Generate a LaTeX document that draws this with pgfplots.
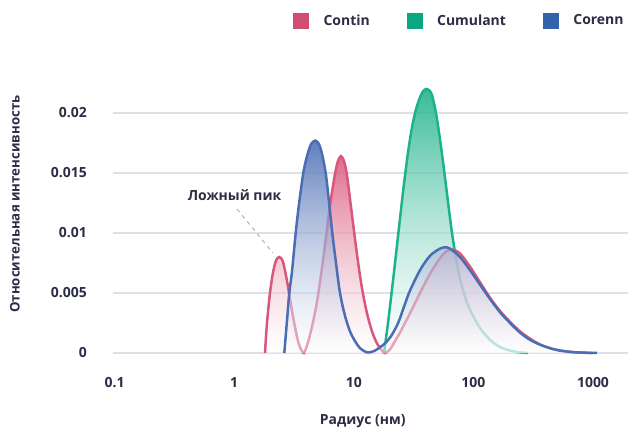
\documentclass[border=0pt]{standalone}
\usepackage{pgfplots}
\pgfplotsset{compat=1.18}
\usepackage{pgfplotstable}
\usetikzlibrary{fadings}
\usepackage{fontspec}
\setmainfont{Open Sans}
\definecolor{pinkL}{HTML}{D9577B}
\definecolor{greenL}{HTML}{1DB28A}
\definecolor{blueL}{HTML}{4A6DB3}
\definecolor{pinkS}{HTML}{D04F73}
\definecolor{greenS}{HTML}{0AA882}
\definecolor{blueS}{HTML}{3363AB}
\definecolor{textc}{HTML}{2B2C45}
\definecolor{gridc}{HTML}{DFDFE6}
\tikzfading[name=fillfade, top color=transparent!12, bottom color=transparent!55]

\pgfplotstableread{
x y
1.809 0
1.880 0.0025
1.992 0.0050
2.111 0.0067
2.236 0.0077
2.383 0.0080
2.559 0.0076
2.764 0.0060
2.928 0.0045
3.162 0.0026
3.416 0.0010
3.618 0.0003
3.834 0
4.141 0.0009
4.472 0.0022
4.830 0.0038
5.217 0.0059
5.743 0.0090
6.324 0.0123
6.963 0.0149
7.377 0.0160
7.815 0.0164
8.281 0.0160
8.773 0.0148
9.660 0.0115
10.64 0.0082
11.71 0.0054
12.90 0.0033
14.20 0.0018
15.63 0.0008
17.21 0.0002
18.23 0
20.08 0.0003
22.11 0.0010
24.34 0.0017
26.80 0.0025
29.51 0.0033
35.77 0.0050
43.37 0.0066
52.57 0.0079
60.15 0.0085
67.52 0.0086
77.26 0.0083
93.67 0.0072
113.5 0.0059
137.7 0.0046
166.9 0.0035
202.3 0.0026
245.3 0.0018
297.3 0.0012
360.5 0.0007
437.0 0.0004
529.8 0.0002
707.1 0.00006
981.0 0
}\contin

\pgfplotstableread{
x y
2.624 0
2.764 0.0027
2.889 0.0050
3.043 0.0068
3.268 0.0100
3.482 0.0124
3.782 0.0150
4.062 0.0164
4.387 0.0174
4.765 0.0177
5.117 0.0174
5.421 0.0166
5.822 0.0150
6.204 0.0126
6.611 0.0100
7.099 0.0075
7.667 0.0050
8.442 0.0031
9.295 0.0018
10.23 0.0010
11.27 0.0004
12.90 0.00005
14.20 0.0001
15.63 0.0003
18.23 0.0008
20.47 0.0014
22.97 0.0023
24.34 0.0029
26.80 0.0041
29.51 0.0052
35.77 0.0069
43.37 0.0081
52.57 0.0087
57.88 0.0088
63.73 0.0087
77.26 0.0080
93.67 0.0069
113.5 0.0057
137.7 0.0045
166.9 0.0034
202.3 0.0025
245.3 0.0017
297.3 0.0011
360.5 0.0007
437.0 0.0004
529.8 0.0002
707.1 0.00006
1080 0
}\corenn

\pgfplotstableread{
x y
17.89 0
19.32 0.0025
20.86 0.0053
22.53 0.0082
24.34 0.0112
26.29 0.0141
28.39 0.0167
30.66 0.0188
33.12 0.0203
35.77 0.0213
37.90 0.0218
40.15 0.0220
42.54 0.0219
45.07 0.0215
48.67 0.0200
52.57 0.0178
56.78 0.0153
61.32 0.0126
66.23 0.0100
71.54 0.0079
77.26 0.0062
85.07 0.0047
93.67 0.0036
113.5 0.0021
137.7 0.0011
166.9 0.0005
202.3 0.0002
245.3 0.00005
286.1 0
}\cumulant

\newcommand{\lblfont}{\bfseries\fontsize{14}{16}\selectfont}

\begin{document}
\begin{tikzpicture}
\begin{axis}[
  name=ax,
  scale only axis, width=515bp, height=284.4bp,
  xmode=log, xmin=0.09697, xmax=1962,
  ymin=-0.0002, ymax=0.0235,
  scaled y ticks=false,
  xtick={0.1,1,10,100,1000}, xticklabels={0.1,1,10,100,1000},
  ytick={0,0.005,0.01,0.015,0.02}, yticklabels={0,0.005,0.01,0.015,0.02},
  axis line style={draw=none},
  major tick length=0pt, minor tick length=0pt,
  ymajorgrids, major grid style={gridc, line width=1.3bp},
  ticklabel style={font=\lblfont, text=textc},
  xticklabel style={anchor=center, yshift=-27.6bp},
  yticklabel style={anchor=east, inner sep=0pt, xshift=-26bp},
  xlabel={Радиус (нм)}, ylabel={Относительная интенсивность},
  xlabel style={at={(axis description cs:0.485,-0.2307)}, anchor=center, font=\lblfont, text=textc},
  ylabel style={at={(axis description cs:-0.1903,0.532)}, anchor=center, font=\bfseries\fontsize{13.3}{15}\selectfont, text=textc},
  legend columns=3,
  legend style={draw=none, fill=none, at={(axis description cs:0.3495,1.1776)}, anchor=west,
    inner sep=0pt, font=\lblfont, text=textc, nodes={inner sep=0pt},
    /tikz/every odd column/.append style={column sep=15bp},
    /tikz/every even column/.append style={column sep=37bp}},
]
\addplot[forget plot, draw=none, top color=greenL, bottom color=white, path fading=fillfade, smooth] table {\cumulant} \closedcycle;
\addplot[forget plot, greenL, line width=2.5bp, smooth] table {\cumulant};
\addplot[forget plot, draw=none, top color=pinkL, bottom color=white, path fading=fillfade, smooth] table {\contin} \closedcycle;
\addplot[forget plot, pinkL, line width=2.5bp, smooth] table {\contin};
\addplot[forget plot, draw=none, top color=blueL, bottom color=white, path fading=fillfade, smooth] table {\corenn} \closedcycle;
\addplot[forget plot, blueL, line width=2.5bp, smooth] table {\corenn};

\addlegendimage{legend image code/.code={\fill[pinkS] (0bp,-7.5bp) rectangle (15bp,7.5bp);}}
\addlegendentry{Contin}
\addlegendimage{legend image code/.code={\fill[greenS] (0bp,-7.5bp) rectangle (15bp,7.5bp);}}
\addlegendentry{Cumulant}
\addlegendimage{legend image code/.code={\fill[blueS] (0bp,-7.5bp) rectangle (15bp,7.5bp);}}
\addlegendentry{Corenn}

\draw[gray!60, dash pattern=on 4bp off 4bp, line width=1bp] (axis cs:1.055,0.012) -- (axis cs:2.11,0.00833);
\node[font=\lblfont, text=textc] at (axis cs:1.006,0.01317) {Ложный пик};
\end{axis}
\pgfresetboundingbox
\path[use as bounding box] ([xshift=-113bp,yshift=-74.6bp]ax.south west) rectangle ([xshift=515bp,yshift=355.4bp]ax.south west);
\end{tikzpicture}
\end{document}
